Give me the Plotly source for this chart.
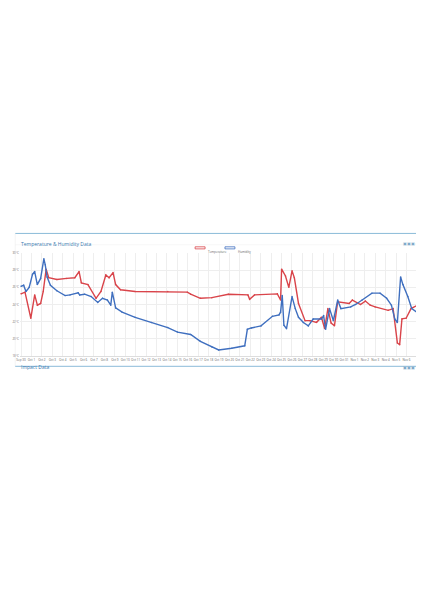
import pandas as pd
import plotly.graph_objects as go

start = pd.Timestamp("2019-09-30")

# red line: temperature (days after Sep 30, deg C)
temp_days = [0, 0.38, 0.94, 1.31, 1.57, 1.88, 2.13, 2.41, 2.66, 3.44, 4.38, 5.16, 5.57, 5.79, 6.42, 7.2, 7.67,
             8.14, 8.45, 8.83, 9.08, 9.55, 10.95, 14.08, 15.96, 16.28, 17.21, 18.31,
             19.9, 21.78, 21.94, 22.41, 24.6, 24.91, 25.01, 25.38, 25.7, 26.01, 26.23, 26.63, 27.26, 27.73,
             28.36, 28.83, 29.14, 29.45, 29.76, 30.08, 30.39, 31.49, 31.8, 32.58, 33.05, 33.52, 33.99, 35.24,
             35.71, 36.12, 36.34, 36.56, 36.96, 37.43, 38.06]
temp_vals = [25.24, 25.44, 22.4, 25.12, 23.92, 24.12, 25.52, 28.12, 27.12, 26.92, 27.04, 27.12, 27.84, 26.52,
             26.32, 24.72, 25.52, 27.44, 27.12, 27.72, 26.32, 25.72, 25.52, 25.52, 25.44, 25.2, 24.72, 24.8,
             25.2, 25.12, 24.6, 25.12, 25.24, 24.52, 28.12, 27.32, 26.0, 27.92, 27.12, 24.12, 22.12, 22.12,
             21.92, 22.52, 21.2, 23.52, 21.84, 21.52, 24.32, 24.12, 24.52, 24.0, 24.4, 23.92, 23.72, 23.32,
             23.52, 19.52, 19.32, 22.32, 22.4, 23.52, 23.92]

# blue line: humidity (days after Sep 30, %)
hum_days = [0, 0.25, 0.47, 0.78, 1.1, 1.31, 1.56, 1.88, 2.19, 2.32, 2.5, 2.82, 3.44, 4.23, 4.69, 5.48, 5.63,
            6.1, 6.73, 7.36, 7.82, 8.29, 8.61, 8.76, 9.08, 9.7, 10.95, 12.52, 14.08, 15.02, 16.28, 17.21, 18.34,
            18.97, 20.22, 21.47, 21.72, 22.1, 23.03, 24.13, 24.76, 24.91, 25.07, 25.23, 25.48, 26.01, 26.32,
            26.63, 27.1, 27.57, 28.04, 28.83, 29.04, 29.23, 29.61, 29.98, 30.39, 30.7, 31.64, 32.11, 32.74,
            33.68, 34.46, 35.09, 35.55, 35.87, 36.12, 36.43, 36.65, 37.12, 37.5, 38.06]
hum_vals = [66.09, 66.18, 65.64, 66.0, 67.14, 67.38, 66.24, 66.78, 68.49, 67.98, 66.9, 66.18, 65.7, 65.28,
            65.34, 65.52, 65.34, 65.4, 65.19, 64.68, 65.04, 64.89, 64.44, 65.58, 64.2, 63.83, 63.38, 62.93,
            62.48, 62.09, 61.88, 61.28, 60.77, 60.53, 60.68, 60.89, 62.33, 62.45, 62.63, 63.47, 63.59, 63.83,
            65.28, 62.69, 62.39, 65.19, 64.14, 63.38, 62.93, 62.63, 63.23, 63.23, 63.53, 62.33, 64.14, 63.08,
            64.89, 64.14, 64.29, 64.5, 64.89, 65.49, 65.49, 65.04, 64.44, 63.23, 62.93, 66.9, 66.24, 65.19,
            64.14, 63.77]

tick_dates = pd.date_range("2019-09-30", "2019-11-06", freq="D")
tick_text = [d.strftime("%b %-d") for d in tick_dates]
left_ticks = [18, 20, 22, 24, 26, 28, 30]
right_ticks = list(range(60, 70))

tx = [start + pd.Timedelta(days=d) for d in temp_days]
hx = [start + pd.Timedelta(days=d) for d in hum_days]

RED = "#d9444a"
BLUE = "#3f6fbf"

fig = go.Figure()
fig.add_trace(go.Scatter(x=tx, y=temp_vals, name="Temperature", mode="lines+markers",
                         line=dict(color=RED, width=1.4), marker=dict(size=1.5)))
fig.add_trace(go.Scatter(x=hx, y=hum_vals, name="Humidity", mode="lines+markers", yaxis="y2",
                         line=dict(color=BLUE, width=1.4), marker=dict(size=1.5)))

small = dict(size=3, color="#666")
fig.update_layout(
    width=424, height=600,
    margin=dict(l=12, r=14, t=245, b=252, autoexpand=False),
    paper_bgcolor="white", plot_bgcolor="white",
    font=dict(family="Open Sans", size=3),
    showlegend=False,
    xaxis=dict(range=[start - pd.Timedelta(days=0.1), start + pd.Timedelta(days=38.1)],
               tickvals=tick_dates, ticktext=tick_text, tickangle=0, tickfont=small, automargin=False,
               showgrid=True, gridcolor="#eeeeee", gridwidth=0.5, zeroline=False,
               showline=True, linecolor="#ddd"),
    yaxis=dict(range=[18, 30], tickvals=left_ticks, ticktext=[f"{v}°C" for v in left_ticks],
               tickfont=small, automargin=False,
               showgrid=True, gridcolor="#eeeeee", gridwidth=0.5, zeroline=False),
    yaxis2=dict(range=[60, 69], tickvals=right_ticks, ticktext=[f"{v}%" for v in right_ticks],
                tickfont=small, automargin=False,
                overlaying="y", side="right", showgrid=False, zeroline=False),
)

# hand-drawn legend (tiny, like the original)
for i, (name, col) in enumerate([("Temperature", RED), ("Humidity", BLUE)]):
    x0 = 0.44 + i * 0.075
    fig.add_shape(type="rect", xref="paper", yref="paper", x0=x0, x1=x0 + 0.025, y0=1.04, y1=1.06,
                  line=dict(color=col, width=0.8), fillcolor="rgba(0,0,0,0)")
    fig.add_annotation(text=name, xref="paper", yref="paper", x=x0 + 0.028, y=1.05, xanchor="left",
                       showarrow=False, font=dict(size=3, color="#666"))

# panel frames and headers
fig.add_shape(type="line", xref="paper", yref="paper", x0=-0.012, x1=1.012, y0=1.19, y1=1.19,
              line=dict(color="#8bbbd9", width=1))
fig.add_shape(type="line", xref="paper", yref="paper", x0=-0.012, x1=-0.012, y0=-0.1, y1=1.19,
              line=dict(color="#e6e6e6", width=0.5))
fig.add_shape(type="line", xref="paper", yref="paper", x0=1.012, x1=1.012, y0=-0.1, y1=1.19,
              line=dict(color="#e6e6e6", width=0.5))
fig.add_shape(type="line", xref="paper", yref="paper", x0=-0.012, x1=1.012, y0=1.08, y1=1.08,
              line=dict(color="#eeeeee", width=0.5))
fig.add_shape(type="line", xref="paper", yref="paper", x0=-0.012, x1=1.012, y0=-0.1, y1=-0.1,
              line=dict(color="#8bbbd9", width=1))
fig.add_annotation(text="Temperature & Humidity Data", xref="paper", yref="paper", x=-0.002, y=1.135,
                   xanchor="left", showarrow=False, font=dict(size=5, color="#3a7ab0"))
fig.add_annotation(text="Impact Data", xref="paper", yref="paper", x=-0.002, y=-0.155,
                   xanchor="left", showarrow=False, font=dict(size=5, color="#3a7ab0"))
for yy in (1.135, -0.155):
    fig.add_annotation(text="▣▣▣ ▾", xref="paper", yref="paper", x=1.005, y=yy, xanchor="right",
                       showarrow=False, font=dict(size=4, color="#7aa7c7"))

fig.write_html("out.html")
